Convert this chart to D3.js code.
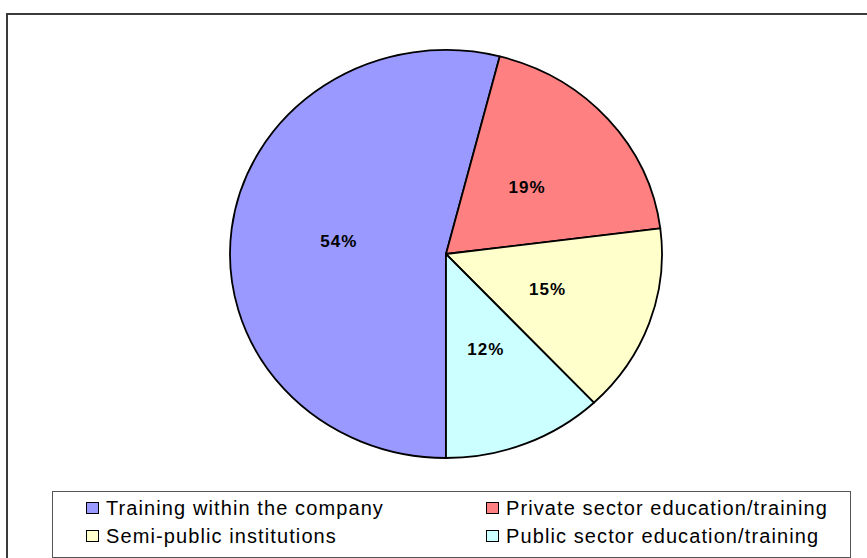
<!DOCTYPE html>
<html>
<head>
<meta charset="utf-8">
<script src="https://cdn.jsdelivr.net/npm/d3@7"></script>
<style>
  html, body { margin: 0; padding: 0; background: #fff; }
  svg { display: block; }
</style>
</head>
<body>
<svg id="chart" width="867" height="558"></svg>
<script>
// Share of training provision by provider type (%)
const categories = [
  "Training within the company",
  "Private sector education/training",
  "Semi-public institutions",
  "Public sector education/training"
];
const shares = [54, 19, 15, 12];
const sliceColors = ["#9999FF", "#FF8080", "#FFFFCC", "#CCFFFF"];

// Legend is laid out in two columns, row by row
const legendOrder = [0, 1, 2, 3];

const svg = d3.select("#chart");
const font = "'Liberation Sans', Arial, sans-serif";

// Outer chart frame (runs past the right and bottom edges)
svg.append("rect")
  .attr("x", 7).attr("y", 14)
  .attr("width", 900).attr("height", 600)
  .attr("fill", "#fff")
  .attr("stroke", "#3a3a3a")
  .attr("stroke-width", 2);

// Pie geometry: slightly flattened ellipse
const cx = 446, cy = 254, rx = 216, ry = 204;

const pie = d3.pie()
  .value(d => d)
  .sort(null)
  .startAngle(Math.PI)
  .endAngle(Math.PI * 3);

const arcs = pie(shares);
const arc = d3.arc().innerRadius(0).outerRadius(rx);
const labelArc = d3.arc().innerRadius(rx * 0.5).outerRadius(rx * 0.5);

const color = d3.scaleOrdinal().domain(d3.range(categories.length)).range(sliceColors);

const pieG = svg.append("g")
  .attr("transform", `translate(${cx},${cy}) scale(1,${ry / rx})`);

pieG.selectAll("path")
  .data(arcs)
  .join("path")
  .attr("d", arc)
  .attr("fill", (d, i) => color(i))
  .attr("stroke", "#000")
  .attr("stroke-width", 1.8)
  .attr("stroke-linejoin", "round")
  .attr("vector-effect", "non-scaling-stroke");

// Percentage labels at half radius
svg.append("g")
  .selectAll("text")
  .data(arcs)
  .join("text")
  .attr("x", d => cx + labelArc.centroid(d)[0])
  .attr("y", d => cy + labelArc.centroid(d)[1] * ry / rx)
  .attr("dy", "0.36em")
  .attr("text-anchor", "middle")
  .attr("font-family", font)
  .attr("font-weight", "bold")
  .attr("font-size", 17)
  .attr("letter-spacing", "1px")
  .attr("fill", "#000")
  .text(d => d.data + "%");

// Legend
const legend = svg.append("g");
legend.append("rect")
  .attr("x", 52.5).attr("y", 491.5)
  .attr("width", 798).attr("height", 66)
  .attr("fill", "#fff")
  .attr("stroke", "#555")
  .attr("stroke-width", 1);

const colX = [86, 486];
const rowY = [515, 543];

const items = legend.selectAll("g.item")
  .data(legendOrder)
  .join("g")
  .attr("class", "item")
  .attr("transform", (d, k) => `translate(${colX[k % 2]},${rowY[Math.floor(k / 2)]})`);

items.append("rect")
  .attr("x", 0.5).attr("y", -12.5)
  .attr("width", 12).attr("height", 11)
  .attr("fill", d => color(d))
  .attr("stroke", "#000")
  .attr("stroke-width", 1);

items.append("text")
  .attr("x", 20)
  .attr("y", 0)
  .attr("font-family", font)
  .attr("font-size", 20)
  .attr("letter-spacing", "1.1px")
  .attr("fill", "#000")
  .text(d => categories[d]);
</script>
</body>
</html>
